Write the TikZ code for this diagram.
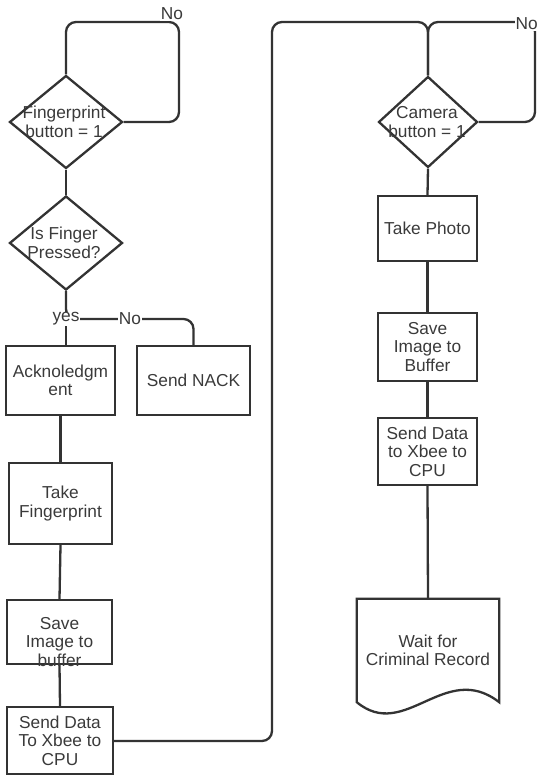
\documentclass[tikz,border=0pt]{standalone}
\usepackage{fontspec}
\setmainfont{Liberation Sans}
\usetikzlibrary{shapes.geometric}
\definecolor{ln}{HTML}{333333}
\definecolor{tx}{HTML}{3A3A3A}
\begin{document}
\begin{tikzpicture}[x=1pt,y=-1pt,
  every node/.style={font=\fontsize{17.3}{18.5}\selectfont, text=tx},
  box/.style={draw=ln, line width=2.3pt, rectangle, inner sep=0pt, align=center},
  dia/.style={draw=ln, line width=2.3pt, diamond, inner sep=0pt},
  txt/.style={align=center, inner sep=0pt},
  conn/.style={draw=ln, line width=2.3pt, rounded corners=10pt},
  lbl/.style={fill=white, inner sep=1pt}]
\useasboundingbox (0,0) rectangle (539,776);

% left column
\node[dia, minimum width=113pt, minimum height=93pt] (d1) at (66,122) {};
\node[txt] (d1t) at (64,122) {Fingerprint\\button = 1};
\node[dia, minimum width=113pt, minimum height=94pt] (d2) at (66,243) {};
\node[txt] (d2t) at (64,243) {Is Finger\\Pressed?};
\node[box, minimum width=109pt, minimum height=69pt] (ack) at (60.5,380.5) {Acknoledgm\\ent};
\node[box, minimum width=113pt, minimum height=69pt] (nack) at (193.5,380.5) {Send NACK};
\node[box, minimum width=103pt, minimum height=81pt] (tf) at (60.5,503.5) {Take\\Fingerprint};
\node[box, minimum width=105pt, minimum height=64pt] (sib) at (59.5,632) {};
\node[box, minimum width=106pt, minimum height=67pt] (sd1) at (60,740.5) {Send Data\\To Xbee to\\CPU};

% right column
\node[dia, minimum width=99pt, minimum height=91pt] (cam) at (428,122) {};
\node[txt] (camt) at (427,122) {Camera\\button = 1};
\node[box, minimum width=99pt, minimum height=65pt] (tp) at (427.5,228.5) {Take Photo};
\node[box, minimum width=99pt, minimum height=68pt] (sib2) at (427.5,347) {Save\\Image to\\Buffer};
\node[box, minimum width=99pt, minimum height=67pt] (sd2) at (427.5,451.5) {Send Data\\to Xbee to\\CPU};
\node[txt, minimum width=142pt, minimum height=103pt] (wait) at (428,650.5) {Wait for\\Criminal Record};
\draw[ln, line width=2.3pt, line join=miter] (wait.north west) -- (wait.north east) -- (wait.south east)
  .. controls (445,660) and (405,742) .. (wait.south west) -- cycle;

% coordinates
\coordinate (l1a) at (179,122);
\coordinate (l1b) at (179,22);
\coordinate (l1c) at (66,22);
\coordinate (j2) at (66,319);
\coordinate (r1) at (272,741);
\coordinate (r2) at (272,22);
\coordinate (top2) at (428,22);
\coordinate (c1) at (535,122);
\coordinate (c2) at (535,22);

% connectors
\draw[conn] (d1.east) -- (l1a) -- (l1b) -- (l1c) -- (d1.north);
\node[lbl] (no1) at (172,14) {No};
\draw[conn] (d1.south) -- (d2.north);
\draw[conn] (d2.south) -- (d2.south |- ack.north);
\draw[conn] (d2.south) -- (j2) -- (j2 -| nack.north) -- (nack.north);
\node[lbl] (yes) at (66,319) {yes};
\node[lbl] (no2) at (130,319) {No};
\draw[conn] (ack.south) -- (tf.north);
\draw[conn] (tf.south) -- (sib.north);
\draw[conn] (sib.south) -- (sd1.north);
\node[txt] (sibt) at (59.5,642) {Save\\Image to\\buffer};
\draw[conn] (sd1.east |- r1) -- (r1) -- (r2) -- (top2) -- (cam.north);
\draw[conn] (cam.east) -- (c1) -- (c2) -- (top2) -- (cam.north);
\node[lbl, anchor=east] (no3) at (539,24) {No};
\draw[conn] (cam.south) -- (tp.north);
\draw[conn] (tp.south) -- (sib2.north);
\draw[conn] (sib2.south) -- (sd2.north);
\draw[conn] (sd2.south) -- (wait.north);
\end{tikzpicture}
\end{document}
